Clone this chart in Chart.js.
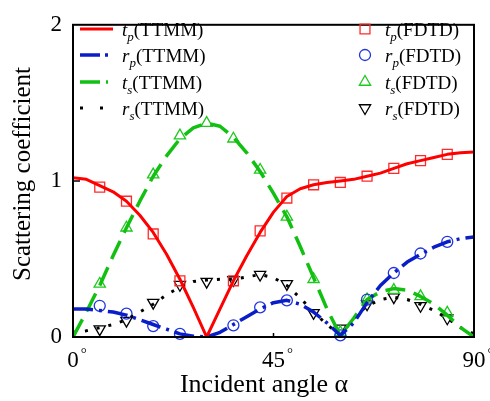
<!DOCTYPE html>
<html>
<head>
<meta charset="utf-8">
<script src="https://cdn.jsdelivr.net/npm/chart.js@4.4.0/dist/chart.umd.min.js"></script>
<style>
html, body { margin: 0; padding: 0; background: #ffffff; }
#wrap { width: 490px; height: 401px; }
</style>
</head>
<body>
<div id="wrap"><canvas id="myChart" width="490" height="401"></canvas></div>
<script>
// TTMM curves, read every 3 degrees
var angles = [0,3,6,9,12,15,18,21,24,27,30,33,36,39,42,45,48,51,54,57,60,63,66,69,72,75,78,81,84,87,90];
var tpTTMM = [1.02,1.01,0.97,0.93,0.87,0.78,0.67,0.53,0.37,0.19,0.0,0.18,0.36,0.52,0.67,0.80,0.90,0.95,0.975,0.99,1.0,1.01,1.03,1.05,1.08,1.11,1.13,1.15,1.17,1.18,1.185];
var rpTTMM = [0.18,0.18,0.17,0.16,0.14,0.11,0.08,0.05,0.02,0.005,0.0,0.03,0.08,0.13,0.18,0.22,0.235,0.21,0.16,0.09,0.01,0.09,0.22,0.33,0.41,0.48,0.53,0.575,0.61,0.63,0.64];
var tsTTMM = [0.0,0.16,0.33,0.52,0.70,0.87,1.03,1.16,1.27,1.34,1.37,1.35,1.28,1.18,1.06,0.92,0.77,0.58,0.38,0.18,0.01,0.12,0.24,0.29,0.31,0.30,0.26,0.21,0.14,0.06,0.0];
var rsTTMM = [0.03,0.04,0.06,0.08,0.11,0.16,0.21,0.27,0.32,0.355,0.365,0.37,0.37,0.385,0.40,0.38,0.33,0.25,0.16,0.08,0.01,0.12,0.20,0.24,0.255,0.24,0.21,0.17,0.12,0.06,0.02];

// FDTD points
var fdtdAngles = [6,12,18,24,30,36,42,48,54,60,66,72,78,84];
var tpFDTD = [0.96,0.87,0.66,0.36,null,0.36,0.68,0.89,0.975,0.99,1.03,1.08,1.13,1.17];
var rpFDTD = [0.20,0.15,0.07,0.02,null,0.075,0.19,0.235,null,0.01,0.24,0.41,0.535,0.61];
var tsFDTD = [0.34,0.70,1.04,1.29,1.37,1.27,1.07,0.77,0.37,0.03,0.24,0.30,0.26,0.155];
var rsFDTD = [0.05,0.105,0.22,0.335,0.355,0.365,0.40,0.34,0.155,0.055,0.21,0.255,0.20,0.12];

var xTicks = [0,45,90];
var yTicks = [0,1,2];

var lineNames = ['p', 'p', 's', 's'];
var lineBase = ['t', 'r', 't', 'r'];

var RED = '#ff0000', BLUE = '#0a1ec8', GREEN = '#12c012', BLACK = '#000000';
var SERIF = '"Liberation Serif", "Times New Roman", serif';

var toPoints = function(xs, ys){
    var pts = [];
    for (var i = 0; i < xs.length; i++){
        if (ys[i] !== null) pts.push({x: xs[i], y: ys[i]});
    }
    return pts;
}

var lineSet = function(label, values, color, dash, width){
    return {
        label: label,
        data: toPoints(angles, values),
        borderColor: color,
        borderWidth: width,
        borderDash: dash,
        pointRadius: 0,
        tension: 0,
        borderJoinStyle: 'round',
        fill: false
    };
}

var pointSet = function(label, values, color, style, radius, rotation){
    return {
        label: label,
        data: toPoints(fdtdAngles, values),
        showLine: false,
        borderColor: color,
        backgroundColor: 'rgba(0,0,0,0)',
        pointStyle: style,
        pointRadius: radius,
        pointRotation: rotation,
        pointBorderWidth: 1.3,
        clip: false
    };
}

var lineStyles = [
    {color: RED, dash: [], width: 3},
    {color: BLUE, dash: [20,6,3,6], width: 3.5},
    {color: GREEN, dash: [20,9], width: 3.5},
    {color: BLACK, dash: [3,9], width: 3}
];
var legendDash = [[], [20,5,3,100], [20,6,2,100], [3,17]];
var markerStyles = [
    {color: '#ff2a2a', style: 'rect', radius: 7, rotation: 0},
    {color: '#2035e0', style: 'circle', radius: 5.5, rotation: 0},
    {color: '#1ec81e', style: 'triangle', radius: 6.5, rotation: 0},
    {color: BLACK, style: 'triangle', radius: 6.5, rotation: 180}
];

var ttmm = [tpTTMM, rpTTMM, tsTTMM, rsTTMM];
var fdtd = [tpFDTD, rpFDTD, tsFDTD, rsFDTD];

var datasets = [];
for (var i = 0; i < 4; i++){
    var ls = lineStyles[i];
    datasets.push(lineSet(lineBase[i] + lineNames[i] + '(TTMM)', ttmm[i], ls.color, ls.dash, ls.width));
}
for (var j = 0; j < 4; j++){
    var ms = markerStyles[j];
    datasets.push(pointSet(lineBase[j] + lineNames[j] + '(FDTD)', fdtd[j], ms.color, ms.style, ms.radius, ms.rotation));
}

var drawMarker = function(ctx, ms, x, y){
    ctx.save();
    ctx.strokeStyle = ms.color;
    ctx.lineWidth = 1.3;
    ctx.beginPath();
    if (ms.style == 'rect'){
        var s = ms.radius * Math.SQRT1_2;
        ctx.rect(x - s, y - s, 2 * s, 2 * s);
    } else if (ms.style == 'circle'){
        ctx.arc(x, y, ms.radius, 0, Math.PI * 2);
    } else {
        var rad = ms.rotation * Math.PI / 180;
        for (var k = 0; k < 3; k++){
            var px = x + Math.sin(rad) * ms.radius, py = y - Math.cos(rad) * ms.radius;
            if (k == 0) ctx.moveTo(px, py); else ctx.lineTo(px, py);
            rad += Math.PI * 2 / 3;
        }
        ctx.closePath();
    }
    ctx.stroke();
    ctx.restore();
}

var drawLabel = function(ctx, base, sub, rest, x, y){
    ctx.fillStyle = '#000';
    ctx.textAlign = 'left';
    ctx.textBaseline = 'alphabetic';
    ctx.font = 'italic 19px ' + SERIF;
    ctx.fillText(base, x, y);
    x += ctx.measureText(base).width;
    ctx.font = 'italic 13px ' + SERIF;
    ctx.fillText(sub, x, y + 5);
    x += ctx.measureText(sub).width;
    ctx.font = '19px ' + SERIF;
    ctx.fillText(rest, x, y);
}

var extras = {
    id: 'extras',
    afterDraw: function(chart){
        var ctx = chart.ctx, a = chart.chartArea;
        var xs = chart.scales.x, ys = chart.scales.y;
        ctx.save();
        // frame
        ctx.strokeStyle = '#000';
        ctx.lineWidth = 2;
        ctx.strokeRect(a.left, a.top, a.right - a.left, a.bottom - a.top);
        // inner tick marks
        ctx.lineWidth = 1.5;
        ctx.beginPath();
        ctx.moveTo(a.left, ys.getPixelForValue(1));
        ctx.lineTo(a.left + 7, ys.getPixelForValue(1));
        ctx.moveTo(xs.getPixelForValue(45), a.bottom);
        ctx.lineTo(xs.getPixelForValue(45), a.bottom - 4);
        ctx.stroke();

        // x tick labels with degree sign
        xTicks.forEach(function(v){
            var px = xs.getPixelForValue(v);
            ctx.font = '23px ' + SERIF;
            ctx.fillStyle = '#000';
            ctx.textAlign = 'center';
            ctx.textBaseline = 'alphabetic';
            var txt = String(v);
            var w = ctx.measureText(txt).width;
            ctx.fillText(txt, px, 367);
            ctx.font = '15px ' + SERIF;
            ctx.textAlign = 'left';
            ctx.fillText('°', px + w / 2 + 2, 358);
        });

        // axis titles
        ctx.font = '26px ' + SERIF;
        ctx.textAlign = 'center';
        ctx.fillText('Incident angle α', 264, 392);
        ctx.save();
        ctx.translate(30, 174);
        ctx.rotate(-Math.PI / 2);
        ctx.font = '25px ' + SERIF;
        ctx.fillText('Scattering coefficient', 0, 0);
        ctx.restore();

        // legends
        var rows = [29, 55, 82, 108];
        for (var i = 0; i < 4; i++){
            var ls = lineStyles[i];
            ctx.save();
            ctx.strokeStyle = ls.color;
            ctx.lineWidth = ls.width;
            ctx.setLineDash(legendDash[i]);
            ctx.beginPath();
            ctx.moveTo(80, rows[i]);
            ctx.lineTo(113, rows[i]);
            ctx.stroke();
            ctx.restore();
            drawLabel(ctx, lineBase[i], lineNames[i], '(TTMM)', 122, rows[i] + 7);

            drawMarker(ctx, markerStyles[i], 365, rows[i]);
            drawLabel(ctx, lineBase[i], lineNames[i], '(FDTD)', 385, rows[i] + 7);
        }
        ctx.restore();
    }
};

var ctx = document.getElementById("myChart");
var myChart = new Chart(ctx, {
    type: 'line',
    data: { datasets: datasets },
    options: {
        responsive: false,
        animation: false,
        layout: { padding: { left: 0, right: 16, top: 15, bottom: 0 } },
        plugins: { legend: { display: false }, tooltip: { enabled: false } },
        scales: {
            x: {
                type: 'linear',
                min: 0,
                max: 90,
                grid: { display: false, drawTicks: false },
                border: { display: false },
                ticks: { display: false, stepSize: 45 },
                afterFit: function(scale){ scale.height = 64; }
            },
            y: {
                min: 0,
                max: 2,
                grid: { display: false, drawTicks: false },
                border: { display: false },
                ticks: {
                    stepSize: 1,
                    padding: 11,
                    color: '#000',
                    font: { family: SERIF, size: 23 }
                },
                afterFit: function(scale){ scale.width = 73; }
            }
        }
    },
    plugins: [extras]
});
</script>
</body>
</html>
